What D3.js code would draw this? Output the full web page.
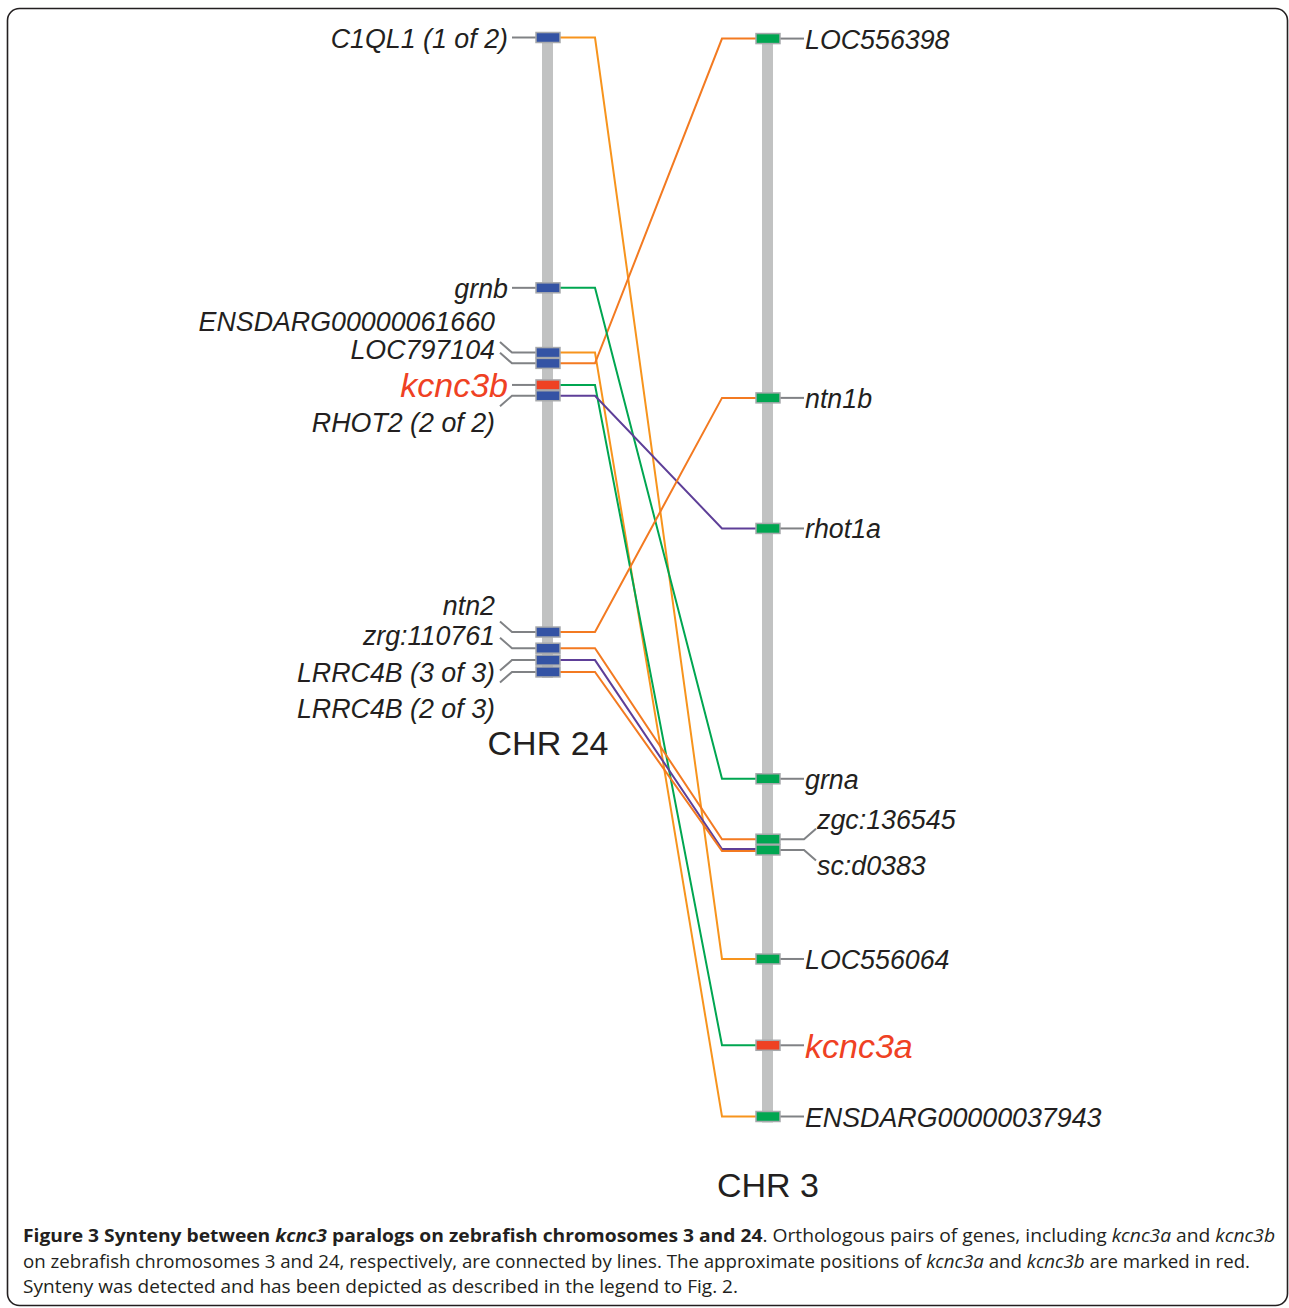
<!DOCTYPE html>
<html lang="en">
<head>
  <meta charset="UTF-8">
  <title>kcnc3 synteny</title>
  <script src="https://cdn.jsdelivr.net/npm/d3@7"></script>
  <style type="text/css">
    body { margin: 0; background: white; }
    svg { display: block; }
    .gene { font-family: "Liberation Sans", Arial, sans-serif; font-style: italic; font-size: 26.8px; fill: #231f20; }
    .gene.hot { font-size: 34px; fill: #ef4123; }
    .chr { font-family: "Liberation Sans", Arial, sans-serif; font-size: 34px; fill: #231f20; text-anchor: middle; }
    .cap { font-family: "Open Sans", sans-serif; font-size: 18.5px; fill: #231f20; }
  </style>
</head>
<body>
<svg id="fig" width="1289" height="1308"></svg>
<script>

  // chromosomes and genes (relative positions along each chromosome, 0..1000)
  const chromosomes = ["CHR 24", "CHR 3"];
  const chr24Genes = ["C1QL1 (1 of 2)", "grnb", "ENSDARG00000061660", "LOC797104", "kcnc3b",
                      "RHOT2 (2 of 2)", "ntn2", "zrg:110761", "LRRC4B (3 of 3)", "LRRC4B (2 of 3)"];
  const chr24Pos   = [0, 232, 292, 302, 322, 332, 551, 566, 577, 588];
  const chr3Genes  = ["LOC556398", "ntn1b", "rhot1a", "grna", "zgc:136545", "sc:d0383",
                      "LOC556064", "kcnc3a", "ENSDARG00000037943"];
  const chr3Pos    = [1, 334, 455, 687, 743, 753, 854, 934, 1000];
  const highlighted = ["kcnc3b", "kcnc3a"];

  // orthologous pairs [chr24 gene, chr3 gene, group]
  const pairs = [
    ["C1QL1 (1 of 2)", "LOC556064", "a"],
    ["ENSDARG00000061660", "ENSDARG00000037943", "a"],
    ["LOC797104", "LOC556398", "b"],
    ["grnb", "grna", "c"],
    ["kcnc3b", "kcnc3a", "c"],
    ["RHOT2 (2 of 2)", "rhot1a", "d"],
    ["ntn2", "ntn1b", "b"],
    ["zrg:110761", "zgc:136545", "b"],
    ["LRRC4B (3 of 3)", "sc:d0383", "d"],
    ["LRRC4B (2 of 3)", "sc:d0383", "b"]
  ];

  // label layout for crowded genes: bend direction of leader, baseline offset
  const labelBend = { "ENSDARG00000061660": -1, "LOC797104": -1, "RHOT2 (2 of 2)": 1,
                      "ntn2": -1, "zrg:110761": -1, "LRRC4B (3 of 3)": 1, "LRRC4B (2 of 3)": 1,
                      "zgc:136545": -1, "sc:d0383": 1 };
  const labelDy   = { "ENSDARG00000061660": -22, "LOC797104": -4, "RHOT2 (2 of 2)": 36.5,
                      "ntn2": -17, "zrg:110761": -3.5, "LRRC4B (3 of 3)": 21.5, "LRRC4B (2 of 3)": 46.5,
                      "zgc:136545": -10, "sc:d0383": 25 };

  const svg = d3.select('#fig');
  const y = d3.scaleLinear().domain([0, 1000]).range([37.5, 1116.5]);
  const x = d3.scalePoint().domain(chromosomes).range([548, 768]);
  const color = d3.scaleOrdinal().domain(["a", "b", "c", "d"])
                  .range(["#f7941d", "#f37a21", "#00a651", "#5e3f98"]);
  const boxW = 24, boxH = 10, stub = 35, elbow = 722;

  const chr24 = chr24Genes.map((g, i) => ({ name: g, pos: chr24Pos[i], side: 0 }));
  const chr3  = chr3Genes.map((g, i) => ({ name: g, pos: chr3Pos[i], side: 1 }));
  const byName = {};
  chr24.concat(chr3).forEach(d => byName[d.name] = d);

  // frame
  svg.append('rect')
    .attr('x', 7.5).attr('y', 8.5).attr('width', 1280).attr('height', 1297)
    .attr('rx', 12).attr('fill', 'none').attr('stroke', '#231f20').attr('stroke-width', 1.6);

  // chromosome bars
  [chr24, chr3].forEach((genes, k) => {
    const ext = d3.extent(genes, d => d.pos);
    svg.append('rect')
      .attr('x', x(chromosomes[k]) - 6).attr('width', 11)
      .attr('y', y(ext[0]) - 4).attr('height', y(ext[1]) - y(ext[0]) + 10)
      .attr('fill', '#c1c2c2');
  });

  // connecting lines
  const rightCount = {}, rightSeen = {};
  pairs.forEach(p => rightCount[p[1]] = (rightCount[p[1]] || 0) + 1);
  const line = d3.line();
  svg.append('g').selectAll('path').data(pairs).enter().append('path')
    .attr('fill', 'none').attr('stroke-width', 2).attr('stroke-linejoin', 'miter')
    .attr('stroke', d => color(d[2]))
    .attr('d', d => {
      const a = byName[d[0]], b = byName[d[1]];
      const k = rightSeen[d[1]] = (rightSeen[d[1]] || 0) + 1;
      const off = (k - 1 - (rightCount[d[1]] - 1) / 2) * 2;
      const x0 = x(chromosomes[0]) + boxW / 2, x1 = x(chromosomes[1]) - boxW / 2;
      const y0 = y(a.pos), y1 = y(b.pos) + off;
      return line([[x0, y0], [x0 + stub, y0], [elbow, y1], [x1, y1]]);
    });

  // leader lines and labels
  const all = chr24.concat(chr3);
  svg.append('g').selectAll('path').data(all).enter().append('path')
    .attr('fill', 'none').attr('stroke', '#808285').attr('stroke-width', 2)
    .attr('d', d => {
      const cx = x(chromosomes[d.side]), gy = y(d.pos);
      const s = d.side === 0 ? -1 : 1;
      const bx = cx + s * boxW / 2, ex = cx + s * (boxW / 2 + 24);
      if (labelBend[d.name]) {
        return line([[bx, gy], [ex, gy], [ex + s * 12, gy + labelBend[d.name] * 10.5]]);
      }
      return line([[bx, gy], [ex, gy]]);
    });

  svg.append('g').selectAll('text').data(all).enter().append('text')
    .attr('class', d => 'gene' + (highlighted.includes(d.name) ? ' hot' : ''))
    .attr('text-anchor', d => d.side === 0 ? 'end' : 'start')
    .attr('x', d => {
      const cx = x(chromosomes[d.side]);
      const bent = labelBend[d.name] ? 1 : 0;
      return d.side === 0 ? cx - 40 - bent * 13 : cx + 37 + bent * 12;
    })
    .attr('y', d => y(d.pos) + (d.name in labelDy ? labelDy[d.name] : (highlighted.includes(d.name) ? 12.5 : 10)))
    .text(d => d.name);

  // gene boxes
  svg.append('g').selectAll('rect').data(all).enter().append('rect')
    .attr('x', d => x(chromosomes[d.side]) - boxW / 2).attr('width', boxW)
    .attr('y', d => y(d.pos) - boxH / 2).attr('height', boxH)
    .attr('fill', d => highlighted.includes(d.name) ? '#ef4123' : (d.side === 0 ? '#3453a4' : '#00a651'))
    .attr('stroke', '#a7a9ac').attr('stroke-width', 1.5);

  // chromosome names
  svg.append('text').attr('class', 'chr').attr('x', x(chromosomes[0])).attr('y', 755).text(chromosomes[0]);
  svg.append('text').attr('class', 'chr').attr('x', x(chromosomes[1])).attr('y', 1197).text(chromosomes[1]);

  // caption
  const caption = [
    { w: 1252, parts: [["Figure 3 Synteny between ", "b"], ["kcnc3", "bi"], [" paralogs on zebrafish chromosomes 3 and 24", "b"],
                       [". Orthologous pairs of genes, including ", ""], ["kcnc3a", "i"], [" and ", ""], ["kcnc3b", "i"]] },
    { w: 1227, parts: [["on zebrafish chromosomes 3 and 24, respectively, are connected by lines. The approximate positions of ", ""],
                       ["kcnc3a", "i"], [" and ", ""], ["kcnc3b", "i"], [" are marked in red.", ""]] },
    { w: 715,  parts: [["Synteny was detected and has been depicted as described in the legend to Fig. 2.", ""]] }
  ];
  caption.forEach((c, i) => {
    const t = svg.append('text').attr('class', 'cap').attr('x', 23).attr('y', 1242 + i * 25.5)
      .attr('textLength', c.w).attr('lengthAdjust', 'spacingAndGlyphs');
    c.parts.forEach(p => {
      t.append('tspan')
        .attr('font-weight', p[1].includes('b') ? 'bold' : null)
        .attr('font-style', p[1].includes('i') ? 'italic' : null)
        .text(p[0]);
    });
  });

</script>
</body>
</html>
